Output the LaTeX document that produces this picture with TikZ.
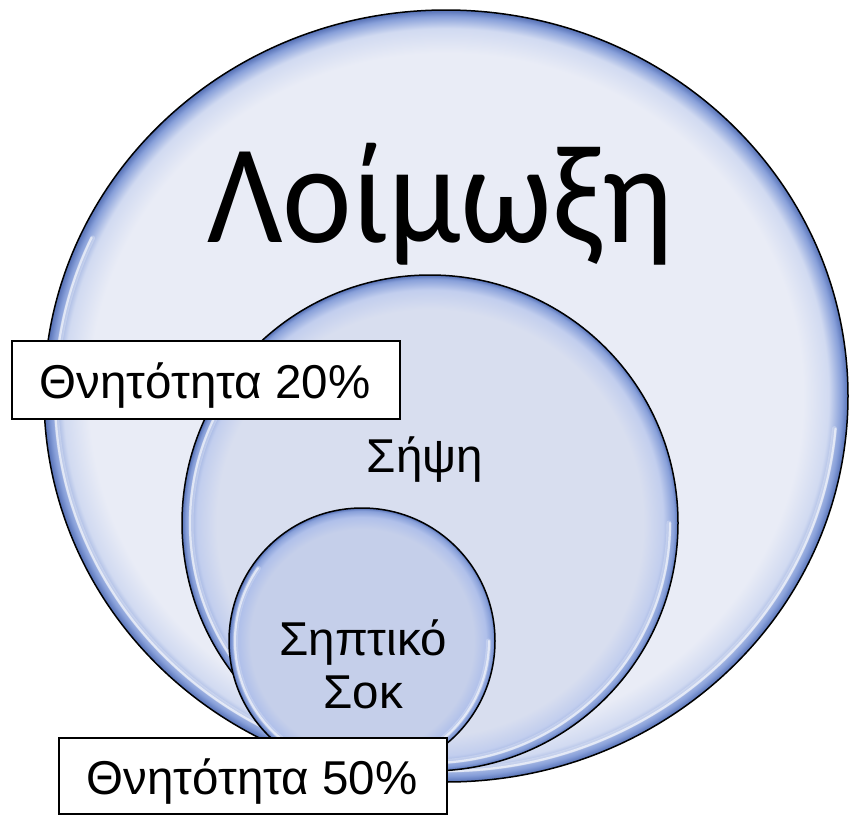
\documentclass[tikz,border=0pt]{standalone}
\usepackage{fontspec}
\setmainfont{Liberation Sans}
\newfontfamily\carlito{Carlito}
\definecolor{fillA}{HTML}{E9ECF6}
\definecolor{midA}{HTML}{D1DAF1}
\definecolor{fillB}{HTML}{D8DEEF}
\definecolor{midB}{HTML}{C2CEEE}
\definecolor{fillC}{HTML}{C5CFEA}
\definecolor{midC}{HTML}{B0C0EA}
\definecolor{rimblue}{HTML}{879FD9}
\definecolor{edgeblue}{HTML}{5570B5}
\pgfdeclareradialshading{bubbleA}{\pgfpoint{0bp}{0bp}}{color(0bp)=(fillA); color(22.2bp)=(fillA); color(23.8bp)=(midA); color(24.6bp)=(rimblue); color(25bp)=(edgeblue); color(50bp)=(edgeblue)}
\pgfdeclareradialshading{bubbleB}{\pgfpoint{0bp}{0bp}}{color(0bp)=(fillB); color(21.5bp)=(fillB); color(23.5bp)=(midB); color(24.6bp)=(rimblue); color(25bp)=(edgeblue); color(50bp)=(edgeblue)}
\pgfdeclareradialshading{bubbleC}{\pgfpoint{0bp}{0bp}}{color(0bp)=(fillC); color(21bp)=(fillC); color(23.3bp)=(midC); color(24.5bp)=(rimblue); color(25bp)=(edgeblue); color(50bp)=(edgeblue)}
\tikzset{
  outline/.style={draw=black, line width=1.5pt},
  gloss/.style={draw=white, line width=2.2pt, opacity=0.6, line cap=round},
  glosssoft/.style={draw=white, line width=5pt, opacity=0.25, line cap=round},
  labelbox/.style={draw=black, line width=1.5pt, fill=white, inner sep=0pt},
  smalltext/.style={font=\fontsize{47.5}{56}\selectfont, anchor=base, inner sep=0pt},
}
\begin{document}
\begin{tikzpicture}[x=1pt,y=-1pt]
\useasboundingbox (0,0) rectangle (849,815);
% big bubble
\coordinate (cA) at (446,396);
\path[shading=bubbleA, outline] (cA) ellipse [x radius=402, y radius=386];
\draw[glosssoft] (cA) ++(5:390 and 374) arc[start angle=5, end angle=205, x radius=390, y radius=374];
\draw[gloss] (cA) ++(5:391 and 375) arc[start angle=5, end angle=205, x radius=391, y radius=375];
\node[anchor=base, inner sep=0pt, xscale=0.935, transform shape, font=\carlito\fontsize{141}{150}\selectfont] (infection) at (440,242) {Λοίμωξη};
% middle bubble
\coordinate (cB) at (430,523);
\path[shading=bubbleB, outline] (cB) circle [radius=248];
\draw[glosssoft] (cB) ++(0:239) arc[start angle=0, end angle=210, radius=239];
\draw[gloss] (cB) ++(0:240) arc[start angle=0, end angle=210, radius=240];
\node[smalltext] (sepsis) at (425,472) {Σήψη};
% small bubble
\coordinate (cC) at (362,641);
\path[shading=bubbleC, outline] (cC) circle [radius=133];
\draw[glosssoft] (cC) ++(0:126.5) arc[start angle=0, end angle=215, radius=126.5];
\draw[gloss] (cC) ++(0:127) arc[start angle=0, end angle=215, radius=127];
\node[smalltext] (shock1) at (363,655) {Σηπτικό};
\node[smalltext] (shock2) at (363,708) {Σοκ};
% label boxes
\node[labelbox, minimum width=388pt, minimum height=78pt] (box1) at (206,380) {};
\node[smalltext] (mort1) at (205,398) {Θνητότητα 20\%};
\node[labelbox, minimum width=388pt, minimum height=76pt] (box2) at (253,776) {};
\node[smalltext] (mort2) at (252,794) {Θνητότητα 50\%};
\end{tikzpicture}
\end{document}
